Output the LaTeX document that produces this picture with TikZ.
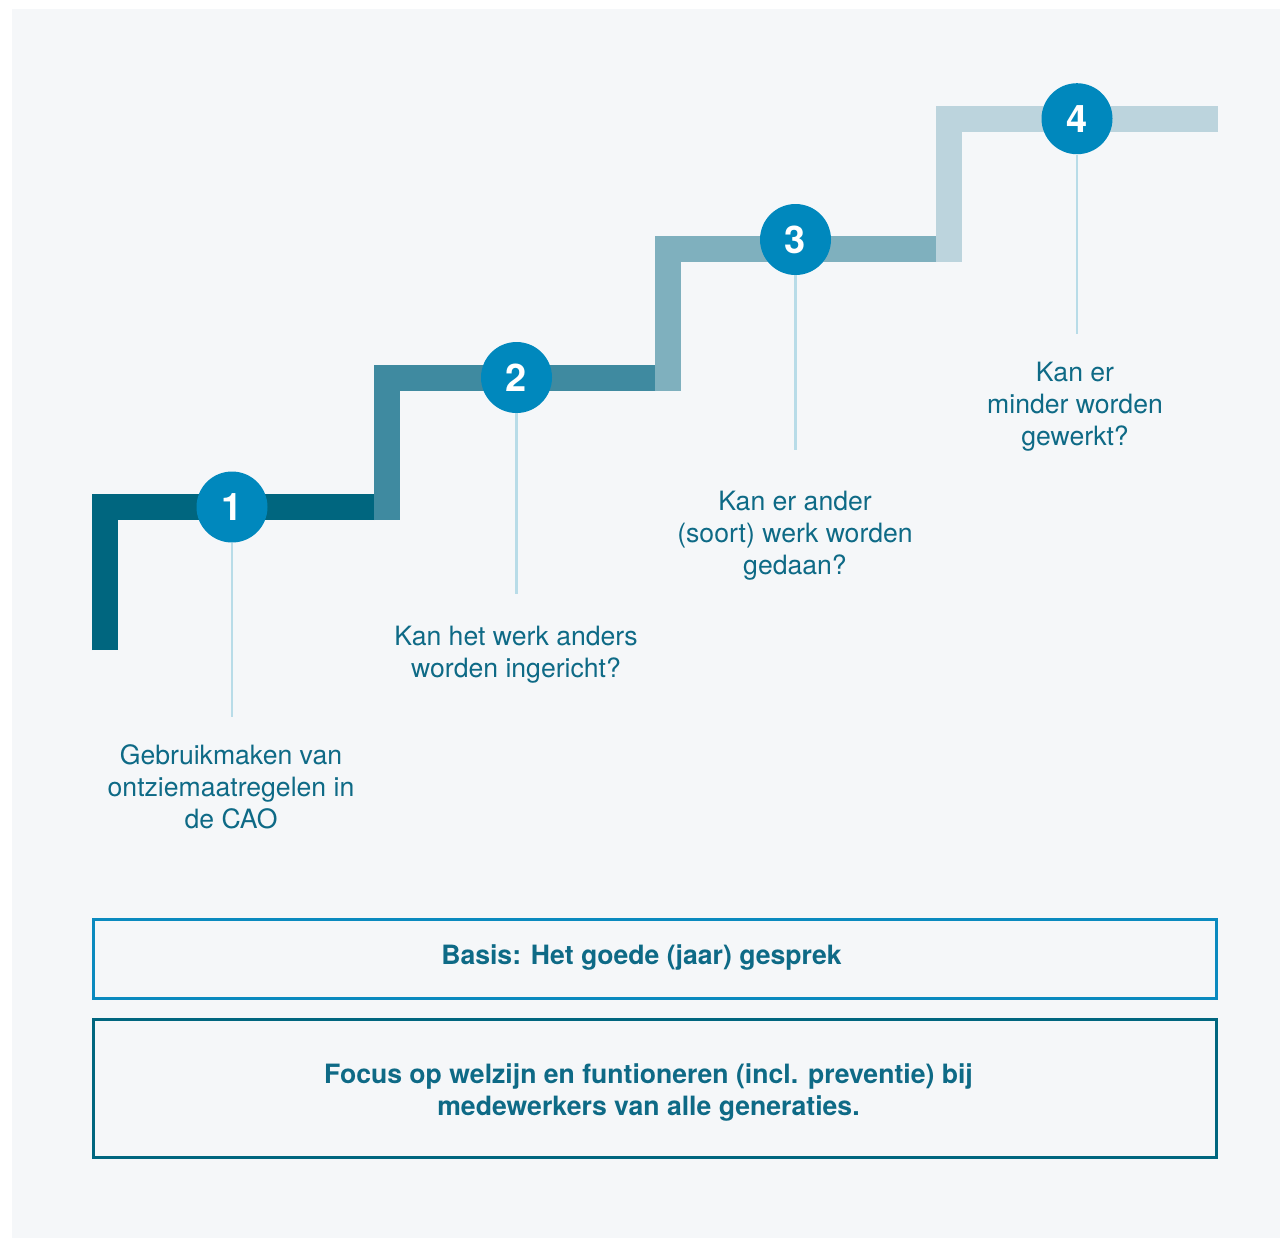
\documentclass[tikz,border=0pt]{standalone}
\usepackage{fontspec}
\setmainfont{TeX Gyre Heros}
\definecolor{bggray}{HTML}{F5F7F9}
\definecolor{stepone}{HTML}{00667F}
\definecolor{steptwo}{HTML}{3F8AA0}
\definecolor{stepthree}{HTML}{7FB0BE}
\definecolor{stepfour}{HTML}{BCD4DD}
\definecolor{dotblue}{HTML}{0088BD}
\definecolor{stemblue}{HTML}{B8DCE8}
\definecolor{txtblue}{HTML}{0E6A86}
\definecolor{basisblue}{HTML}{0A8ABF}
\tikzset{
  stair/.style={line width=13pt, line join=miter, line cap=butt},
  numdot/.style={circle, fill=dotblue, minimum size=35.5pt, inner sep=0pt, text=white, font=\bfseries\fontsize{19}{22}\selectfont},
  stem/.style={draw=stemblue, line width=1.3pt},
  question/.style={text=txtblue, align=center, inner sep=0pt, anchor=north, font=\fontsize{13.3}{16}\selectfont},
  framebox/.style={draw, line width=1.5pt, minimum width=561.5pt, inner sep=0pt},
  boxtext/.style={text=txtblue, align=center, inner sep=0pt, font=\bfseries\fontsize{13.3}{16}\selectfont}
}
\begin{document}
\begin{tikzpicture}[x=0.5pt,y=0.5pt,yscale=-1,xscale=1]
\useasboundingbox (0,0) rectangle (1280,1238);
%Background
\fill[bggray] (12,9) rectangle (1280,1238);

%Stairs
\draw[stair, stepone] (105,650) -- (105,507) -- (374,507) ;
\draw[stair, steptwo] (387,520) -- (387,378) -- (655,378) ;
\draw[stair, stepthree] (668,391) -- (668,249) -- (936,249) ;
\draw[stair, stepfour] (949,262) -- (949,119) -- (1218,119) ;

%Numbered circles
\node[numdot] (n1) at (232,507) {1};
\node[numdot] (n2) at (516.5,377.5) {2};
\node[numdot] (n3) at (795.5,239.5) {3};
\node[numdot] (n4) at (1077,118.7) {4};

%Stem ends
\coordinate (e1) at (232,717);
\coordinate (e2) at (516.5,594);
\coordinate (e3) at (795.5,450);
\coordinate (e4) at (1077,334);
\draw[stem] (n1.south) -- (e1) ;
\draw[stem] (n2.south) -- (e2) ;
\draw[stem] (n3.south) -- (e3) ;
\draw[stem] (n4.south) -- (e4) ;

% Text Node
\node[question] (q1) at (231,744) {Gebruikmaken van\\ontziemaatregelen in\\de CAO};
% Text Node
\node[question] (q2) at (516,626) {Kan het werk anders\\worden ingericht?};
% Text Node
\node[question] (q3) at (795,491) {Kan er ander\\(soort) werk worden\\gedaan?};
% Text Node
\node[question] (q4) at (1075,362) {Kan er\\minder worden\\gewerkt?};

%Shape: Rectangle
\node[framebox, draw=basisblue, minimum height=39.5pt] (basis) at (655,959) {};
\node[boxtext] (basistxt) at (641.5,957.3) {Basis: Het goede (jaar) gesprek};

%Shape: Rectangle
\node[framebox, draw=stepone, minimum height=69pt] (focus) at (655,1088.5) {};
\node[boxtext] (focustxt) at (648.5,1092) {Focus op welzijn en funtioneren (incl. preventie) bij\\medewerkers van alle generaties.};

\end{tikzpicture}
\end{document}
